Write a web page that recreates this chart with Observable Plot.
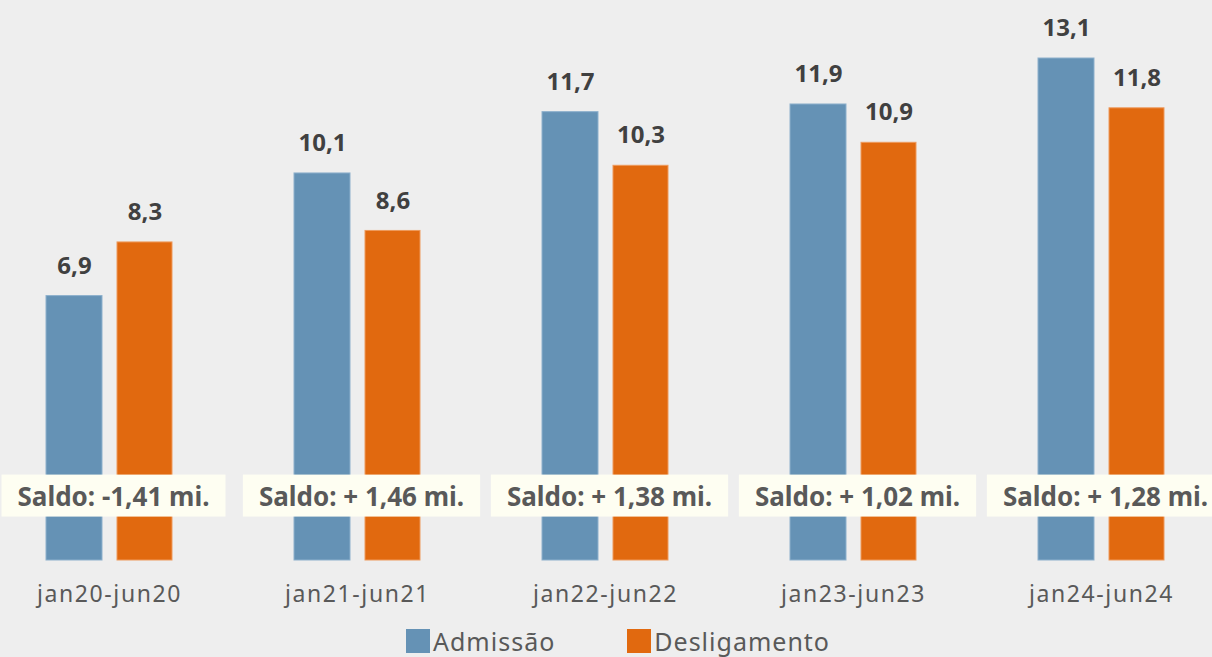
<!DOCTYPE html>
<html>
<head>
<meta charset="utf-8">
<script src="https://cdn.jsdelivr.net/npm/d3@7"></script>
<script src="https://cdn.jsdelivr.net/npm/@observablehq/plot@0.6"></script>
<style>
  html, body { margin: 0; padding: 0; background: #eeeeee; }
  body { width: 1212px; height: 657px; overflow: hidden; font-family: "Noto Sans", sans-serif; }
  #legend { display: flex; justify-content: center; gap: 72px; padding-left: 24px; padding-top: 4px; height: 33px; align-items: center; font-size: 25px; line-height: 30px; letter-spacing: 1px; color: #595959; }
  #legend .item { display: flex; align-items: center; gap: 3px; }
  #legend .sw { width: 24px; height: 24px; display: inline-block; }
  g[aria-label="x-axis tick label"] text { letter-spacing: 1.6px; }
</style>
</head>
<body>
<div id="chart"></div>
<div id="legend"></div>
<script>
const periods = ["jan20-jun20", "jan21-jun21", "jan22-jun22", "jan23-jun23", "jan24-jun24"];
const admissao = [6.9, 10.1, 11.7, 11.9, 13.1];
const desligamento = [8.3, 8.6, 10.3, 10.9, 11.8];
const saldo = ["Saldo: -1,41 mi.", "Saldo: + 1,46 mi.", "Saldo: + 1,38 mi.", "Saldo: + 1,02 mi.", "Saldo: + 1,28 mi."];
const seriesNames = ["Admissão", "Desligamento"];
const seriesColors = ["#6592b5", "#e1690f"];

const fmt = v => v.toFixed(1).replace(".", ",");
const adm = periods.map((p, i) => ({period: p, value: admissao[i]}));
const des = periods.map((p, i) => ({period: p, value: desligamento[i]}));
const sal = periods.map((p, i) => ({period: p, label: saldo[i], y: 1.65}));

const chart = Plot.plot({
  width: 1212,
  height: 620,
  marginTop: 58,
  marginBottom: 60,
  marginLeft: 0,
  marginRight: 0,
  style: {background: "transparent", fontFamily: "'Noto Sans', sans-serif", overflow: "visible"},
  x: {domain: periods, range: [-15, 1225], padding: 0},
  y: {domain: [0, 13.1], axis: null},
  marks: [
    Plot.barY(adm, {x: "period", y: "value", fill: seriesColors[0], stroke: "#8db0cc", strokeWidth: 1, insetLeft: 61, insetRight: 131}),
    Plot.barY(des, {x: "period", y: "value", fill: seriesColors[1], stroke: "#ee9a5c", strokeWidth: 1, insetLeft: 132, insetRight: 61}),
    Plot.text(adm, {x: "period", y: "value", text: d => fmt(d.value), dx: -35, dy: -30, fontSize: 24, fontWeight: "bold", fill: "#404040"}),
    Plot.text(des, {x: "period", y: "value", text: d => fmt(d.value), dx: 35.5, dy: -30, fontSize: 24, fontWeight: "bold", fill: "#404040"}),
    Plot.text(sal, {x: "period", y: "y", text: "label", dx: 4, fontSize: 26, fontWeight: "bold", fill: "#595959", ariaDescription: "saldo"}),
    Plot.axisX({tickSize: 0, tickPadding: 25, fontSize: 23, fill: "#595959", label: null})
  ]
});
document.getElementById("chart").appendChild(chart);

// cream boxes behind the saldo labels
chart.querySelectorAll('g[aria-description="saldo"] text').forEach(t => {
  const b = t.getBBox();
  const padX = 16, padY = 3;
  const r = document.createElementNS("http://www.w3.org/2000/svg", "rect");
  r.setAttribute("x", b.x - padX);
  r.setAttribute("y", b.y - padY);
  r.setAttribute("width", b.width + 2 * padX);
  r.setAttribute("height", b.height + 2 * padY);
  r.setAttribute("fill", "#fefef2");
  const tr = t.getAttribute("transform");
  if (tr) r.setAttribute("transform", tr);
  t.parentNode.insertBefore(r, t);
});

const legend = document.getElementById("legend");
seriesNames.forEach((n, i) => {
  const it = document.createElement("div");
  it.className = "item";
  it.innerHTML = `<span class="sw" style="background:${seriesColors[i]}"></span><span>${n}</span>`;
  legend.appendChild(it);
});
</script>
</body>
</html>
